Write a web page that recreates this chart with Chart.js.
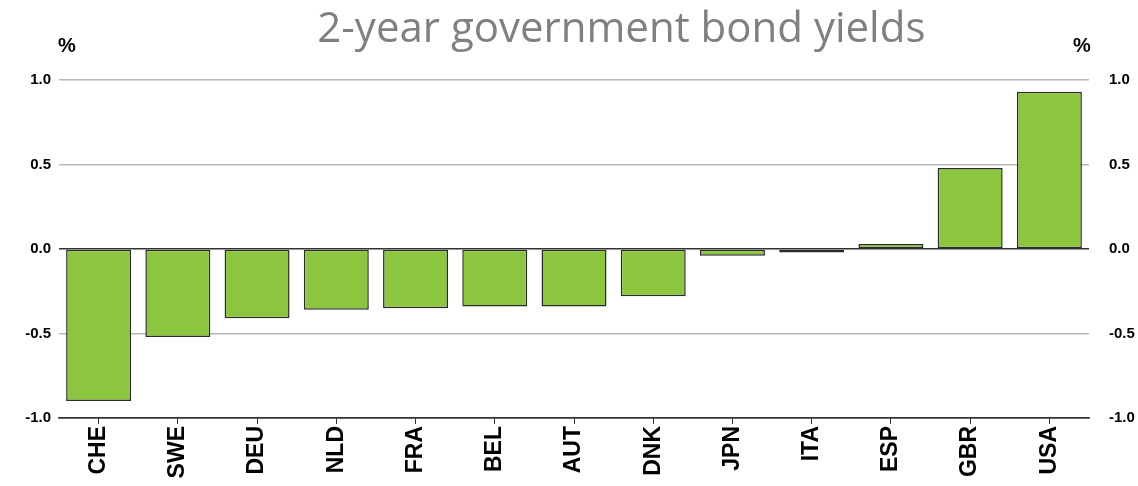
<!DOCTYPE html>
<html>
<head>
<meta charset="utf-8">
<script src="https://cdn.jsdelivr.net/npm/chart.js@4"></script>
<style>
html,body{margin:0;padding:0;background:#fff;}
#wrap{width:1138px;height:486px;position:relative;}
</style>
</head>
<body>
<div id="wrap"><canvas id="mainChart" width="1138" height="486"></canvas></div>
<script>

/* DATA */

const countries = ["CHE","SWE","DEU","NLD","FRA","BEL","AUT","DNK","JPN","ITA","ESP","GBR","USA"];

const yields = [-0.90,-0.52,-0.41,-0.36,-0.35,-0.34,-0.34,-0.28,-0.04,-0.02,0.03,0.48,0.93];

const yTicks = [-1.0,-0.5,0.0,0.5,1.0];

const titleText = "2-year government bond yields";

const unitText = "%";

/* TITLE + UNIT LABELS */

const headerPlugin = {

id:"header",

afterDraw(chart){

const c = chart.ctx;
const area = chart.chartArea;

c.save();

c.fillStyle = "#808080";
c.font = "42px 'Open Sans'";
c.textAlign = "center";
c.textBaseline = "alphabetic";
c.fillText(titleText, area.left + (area.right-area.left)*0.546, 42);

c.fillStyle = "#000";
c.font = "bold 20px 'Liberation Sans'";
c.fillText(unitText, area.left + 8, 52);
c.fillText(unitText, area.right - 7, 52);

c.restore();

}

};

/* CHART SETUP */

const ctx =
document.getElementById("mainChart");

const tickFont = {

family:"'Liberation Sans', Arial, sans-serif",
weight:"bold",
size:15

};

const gridColor = (context)=>{

const v = context.tick ? context.tick.value : null;

if(v === 0 || v === -1) return "#333333";

return "#b8b8b8";

};

const chart = new Chart(ctx, {

type:"bar",

data:{

labels:countries,

datasets:[

{

data:yields,

backgroundColor:"#8cc63f",

borderColor:"#2b2b2b",

borderWidth:1.5,

borderSkipped:false,

categoryPercentage:1,

barPercentage:0.82

}

]

},

plugins:[headerPlugin],

options:{

responsive:false,

animation:false,

layout:{

padding:{top:80,left:0,right:0,bottom:0}

},

plugins:{

legend:{display:false},

tooltip:{enabled:false}

},

scales:{

x:{

grid:{

offset:false,

drawOnChartArea:false,

drawTicks:true,

tickLength:6,

color:"#333333"

},

border:{display:true, color:"#333333", width:1.5},

ticks:{

color:"#000",

font:{family:"'Liberation Sans', Arial, sans-serif", weight:"bold", size:23},

maxRotation:90,

minRotation:90,

padding:2,

autoSkip:false

},

afterFit(scale){ scale.height = 68; }

},

y:{

position:"left",

min:-1,

max:1,

afterBuildTicks(scale){ scale.ticks = yTicks.map(v=>({value:v})); },

grid:{

color:gridColor,

lineWidth:1.5,

drawTicks:false

},

border:{display:false},

ticks:{

color:"#000",

font:tickFont,

padding:8,

callback:(v)=>Number(v).toFixed(1)

},

afterFit(scale){ scale.width = 59; }

},

y2:{

position:"right",

min:-1,

max:1,

afterBuildTicks(scale){ scale.ticks = yTicks.map(v=>({value:v})); },

grid:{display:false},

border:{display:false},

ticks:{

color:"#000",

font:tickFont,

padding:12,

callback:(v)=>Number(v).toFixed(1)

},

afterFit(scale){ scale.width = 49; }

}

}

}

});

</script>
</body>
</html>
